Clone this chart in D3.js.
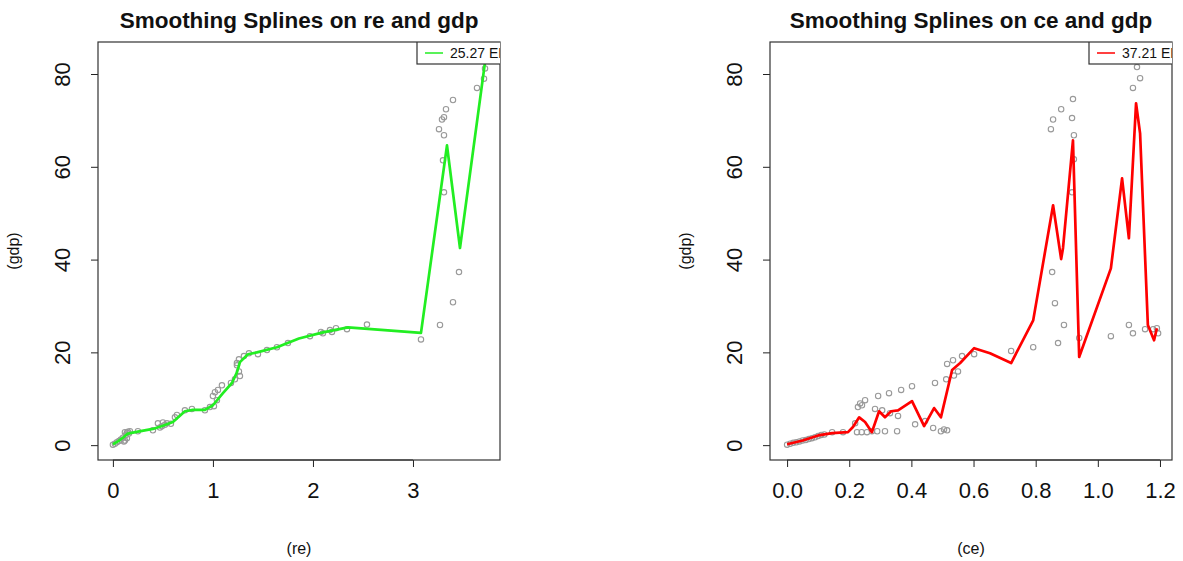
<!DOCTYPE html>
<html><head><meta charset="utf-8">
<script src="https://cdn.jsdelivr.net/npm/d3@7"></script>
<style>body{margin:0;background:#fff;} svg{display:block;font-family:"Liberation Sans",Arial,sans-serif;}</style>
</head><body>
<svg id="c" width="1183" height="561"></svg>
<script>
// ---- data ----
const reX = [0.0,0.02,0.04,0.06,0.08,0.10,0.12,0.13,0.14,0.15,0.16,0.12,0.14,0.11,0.17,0.25,0.40,0.45,0.47,0.49,0.50,0.52,0.54,0.58,0.62,0.64,0.72,0.79,0.92,0.97,1.01,1.04,1.00,1.02,1.05,1.09,1.18,1.22,1.27,1.26,1.24,1.24,1.26,1.31,1.36,1.45,1.54,1.64,1.75,1.97,2.08,2.10,2.17,2.19,2.23,2.34,2.54,3.08,3.27,3.40,3.46,3.31,3.30,3.31,3.26,3.29,3.31,3.33,3.40,3.64,3.71,3.72];
const reGdp = [0.1,0.3,0.6,0.9,1.2,1.6,1.0,2.2,2.7,2.9,2.5,2.8,1.5,0.8,3.0,3.0,3.2,4.7,3.8,4.1,4.9,4.4,4.7,4.6,6.0,6.5,7.5,7.8,7.5,8.2,8.4,9.7,10.6,11.4,11.9,12.9,13.4,14.2,14.9,15.9,17.2,17.7,18.5,19.2,19.8,19.6,20.5,21.1,22.0,23.5,24.4,24.1,24.8,24.4,25.2,25.0,26.0,22.8,25.9,30.8,37.3,54.5,61.4,66.8,68.1,70.2,70.7,72.4,74.4,77.0,79.0,81.2];
const reFitX = [0,0.05,0.10,0.15,0.25,0.40,0.50,0.60,0.72,0.80,0.92,1.00,1.10,1.19,1.24,1.27,1.35,1.44,1.64,1.86,2.10,2.35,3.08,3.34,3.47,3.72];
const reFitY = [0.2,0.8,1.6,2.5,2.9,3.5,4.2,5.0,7.3,7.6,7.6,8.6,11.2,13.4,15.7,17.9,19.6,20.0,21.1,23.0,24.3,25.4,24.2,64.6,42.5,82.5];

const ceX = [0.00,0.01,0.02,0.03,0.04,0.05,0.06,0.07,0.08,0.09,0.10,0.11,0.12,0.145,0.18,0.219,0.225,0.228,0.235,0.241,0.240,0.251,0.257,0.273,0.283,0.290,0.293,0.306,0.315,0.328,0.331,0.354,0.357,0.367,0.402,0.412,0.444,0.470,0.476,0.495,0.505,0.512,0.515,0.515,0.534,0.537,0.550,0.563,0.602,0.721,0.792,0.849,0.853,0.856,0.862,0.872,0.882,0.891,0.917,0.917,0.920,0.923,0.923,0.940,1.042,1.100,1.113,1.113,1.126,1.136,1.152,1.178,1.190,1.194];
const ceGdp = [0.1,0.3,0.5,0.6,0.8,1.0,1.1,1.3,1.5,1.7,2.0,2.2,2.3,2.8,2.8,4.7,2.8,8.2,9.0,8.6,2.8,9.7,2.8,3.0,7.8,3.0,10.6,7.5,3.0,11.2,6.9,3.0,6.3,11.9,12.7,4.5,5.2,3.7,13.4,3.0,3.4,14.2,17.5,3.2,18.3,15.0,15.9,19.2,19.6,20.3,21.1,68.1,37.3,70.2,30.6,22.0,72.4,25.9,70.5,54.5,74.6,66.8,61.6,23.1,23.5,25.9,24.1,77.0,81.5,79.1,25.0,25.0,25.2,24.1];
const ceFitX = [0,0.05,0.10,0.145,0.196,0.212,0.232,0.251,0.273,0.296,0.315,0.335,0.357,0.402,0.441,0.473,0.495,0.531,0.557,0.602,0.653,0.721,0.792,0.856,0.882,0.888,0.920,0.940,1.042,1.078,1.100,1.123,1.136,1.161,1.181,1.190];
const ceFitY = [0.2,1.0,2.1,2.6,2.8,3.9,6.0,5.0,2.8,7.3,6.0,7.3,7.5,9.5,4.1,8.0,6.0,16.2,17.7,20.9,19.8,17.7,26.9,51.7,40.1,42.5,65.7,19.0,38.1,57.5,44.6,73.7,67.2,25.9,22.6,25.2];

const reTicks = [0,1,2,3];
const ceTicks = [0.0,0.2,0.4,0.6,0.8,1.0,1.2];
const gdpTicks = [0,20,40,60,80];

const panels = [
  {title:"Smoothing Splines on re and gdp", xlab:"(re)", ylab:"(gdp)", x:reX, y:reGdp, fx:reFitX, fy:reFitY,
   xdom:[-0.149,3.87], xt:reTicks, fmt:d3.format("d"), left:98, color:"#22ee22", legend:"25.27 EDF"},
  {title:"Smoothing Splines on ce and gdp", xlab:"(ce)", ylab:"(gdp)", x:ceX, y:ceGdp, fx:ceFitX, fy:ceFitY,
   xdom:[-0.055,1.2387], xt:ceTicks, fmt:d3.format(".1f"), left:770, color:"#ff0000", legend:"37.21 EDF"}
];

const svg = d3.select("#c");
const pTop = 42, pBottom = 460, W = 402;

panels.forEach((p,i)=>{
  const xs = d3.scaleLinear().domain(p.xdom).range([p.left, p.left+W]);
  const ys = d3.scaleLinear().domain([-3.2,86.9]).range([pBottom, pTop]);
  const g = svg.append("g");
  const clipId = "clip"+i;
  svg.append("clipPath").attr("id",clipId).append("rect")
     .attr("x",p.left).attr("y",pTop).attr("width",W).attr("height",pBottom-pTop);

  // points
  g.append("g").selectAll("circle").data(p.x.map((v,k)=>[v,p.y[k]])).join("circle")
    .attr("cx",d=>xs(d[0])).attr("cy",d=>ys(d[1])).attr("r",2.7)
    .attr("fill","none").attr("stroke","#999").attr("stroke-width",1.1);

  // fitted line
  const line = d3.line().x(d=>xs(d[0])).y(d=>ys(d[1]));
  g.append("path").datum(p.fx.map((v,k)=>[v,p.fy[k]]))
    .attr("d",line).attr("fill","none").attr("stroke",p.color).attr("stroke-width",2.7)
    .attr("stroke-linejoin","round").attr("clip-path",`url(#${clipId})`);

  // axes
  const xa = d3.axisBottom(xs).tickValues(p.xt).tickFormat(p.fmt).tickSize(7).tickPadding(15);
  const xg = g.append("g").attr("transform",`translate(0,${pBottom})`).call(xa);
  xg.select(".domain").remove();
  xg.append("line").attr("x1",xs(p.xt[0])).attr("x2",xs(p.xt[p.xt.length-1])).attr("stroke","#222");
  xg.selectAll("text").attr("font-size",22).attr("fill","#111").attr("font-family","Liberation Sans, Arial, sans-serif");
  xg.selectAll(".tick line").attr("stroke","#222");

  const ya = d3.axisLeft(ys).tickValues(gdpTicks).tickFormat(d3.format("d")).tickSize(7).tickPadding(0);
  const yg = g.append("g").attr("transform",`translate(${p.left},0)`).call(ya);
  yg.select(".domain").remove();
  yg.selectAll(".tick line").attr("stroke","#222");
  yg.selectAll("text").attr("font-size",22).attr("fill","#111").attr("font-family","Liberation Sans, Arial, sans-serif")
    .attr("text-anchor","middle").attr("x",0).attr("dy",0)
    .attr("transform","translate(-36,0) rotate(-90)").attr("dominant-baseline","central");

  // box
  g.append("rect").attr("x",p.left).attr("y",pTop).attr("width",W).attr("height",pBottom-pTop)
    .attr("fill","none").attr("stroke","#333").attr("stroke-width",1.2);

  // legend
  const lg = g.append("g").attr("clip-path",`url(#${clipId})`);
  const lx = p.left + W - 83;
  lg.append("rect").attr("x",lx).attr("y",pTop).attr("width",120).attr("height",22)
    .attr("fill","#fff").attr("stroke","#333").attr("stroke-width",1.2);
  lg.append("line").attr("x1",lx+8).attr("x2",lx+26).attr("y1",pTop+11).attr("y2",pTop+11)
    .attr("stroke",p.color).attr("stroke-width",1.5);
  lg.append("text").attr("x",lx+33).attr("y",pTop+16).attr("font-size",14).attr("fill","#111").text(p.legend);

  // titles
  svg.append("text").attr("x",p.left+W/2).attr("y",28).attr("text-anchor","middle")
    .attr("font-size",22.5).attr("font-weight","bold").attr("fill","#111").text(p.title);
  svg.append("text").attr("x",p.left+W/2).attr("y",554).attr("text-anchor","middle")
    .attr("font-size",16).attr("fill","#111").text(p.xlab);
  svg.append("text").attr("transform",`translate(${p.left-79},251) rotate(-90)`).attr("text-anchor","middle")
    .attr("font-size",16).attr("fill","#111").text(p.ylab);
});
</script>
</body></html>
